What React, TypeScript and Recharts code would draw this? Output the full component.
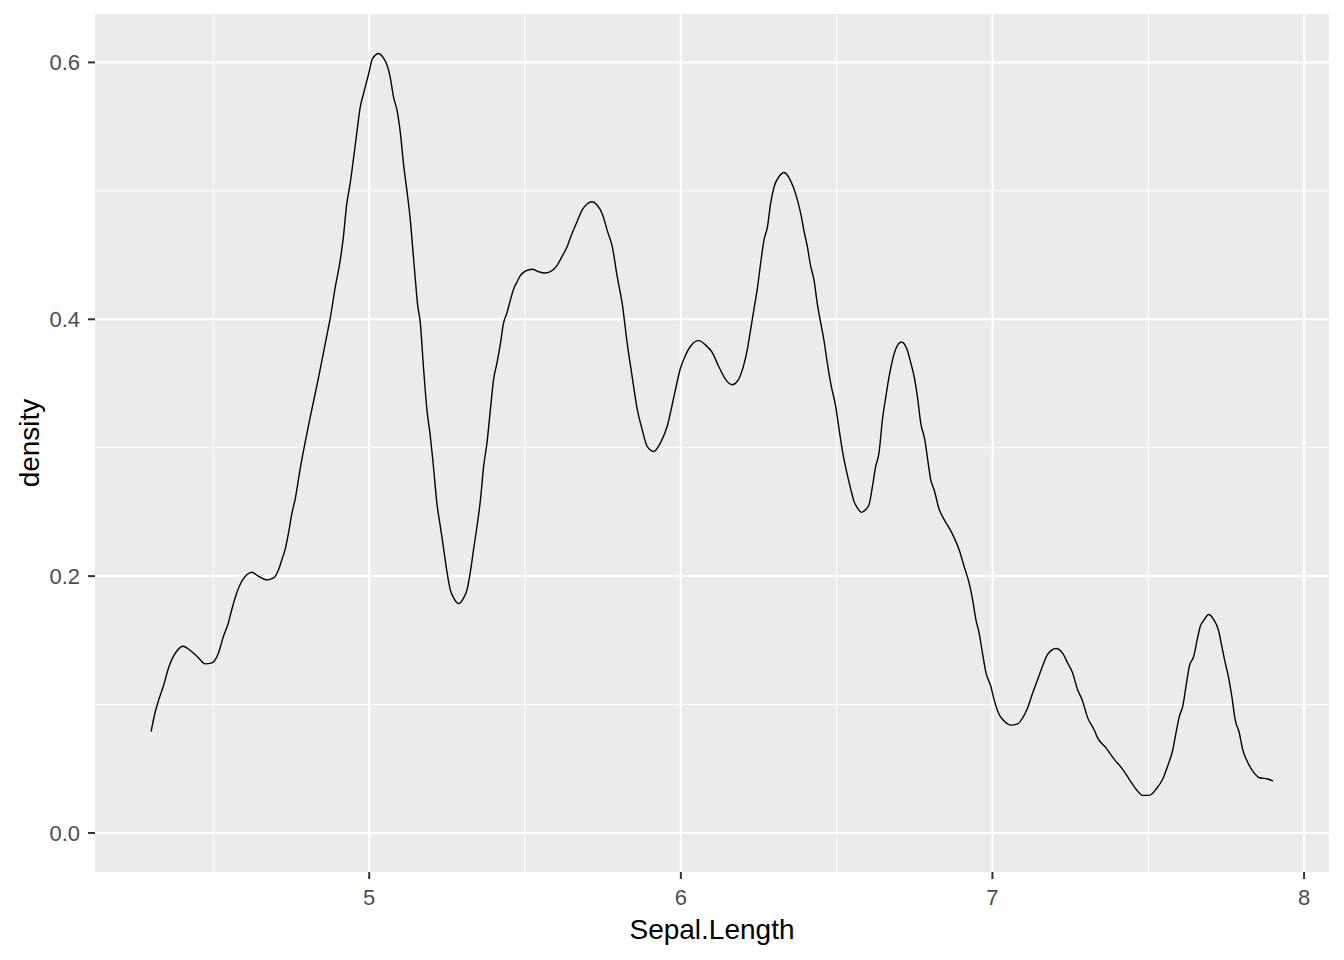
import React from 'react';
import { LineChart, Line, XAxis, YAxis, CartesianGrid, Label } from 'recharts';

// kernel density of Sepal.Length
const sepalLength = [
  4.300, 4.313, 4.325, 4.339, 4.358, 4.382, 4.403, 4.425, 4.452, 4.473,
  4.495, 4.516, 4.532, 4.548, 4.559, 4.575, 4.591, 4.607, 4.623, 4.644,
  4.671, 4.693, 4.709, 4.720, 4.730, 4.741, 4.752, 4.762, 4.778, 4.810,
  4.836, 4.862, 4.875, 4.891, 4.907, 4.917, 4.928, 4.939, 4.950, 4.960,
  4.971, 4.982, 4.998, 5.009, 5.019, 5.030, 5.044, 5.057, 5.067, 5.078,
  5.089, 5.100, 5.110, 5.121, 5.132, 5.140, 5.148, 5.155, 5.164, 5.174,
  5.185, 5.196, 5.207, 5.217, 5.228, 5.239, 5.250, 5.260, 5.271, 5.287,
  5.303, 5.314, 5.324, 5.335, 5.346, 5.357, 5.367, 5.378, 5.389, 5.399,
  5.410, 5.421, 5.431, 5.442, 5.453, 5.464, 5.474, 5.485, 5.501, 5.523,
  5.544, 5.565, 5.587, 5.603, 5.619, 5.635, 5.651, 5.667, 5.683, 5.699,
  5.715, 5.731, 5.748, 5.764, 5.780, 5.796, 5.812, 5.828, 5.844, 5.860,
  5.876, 5.892, 5.913, 5.935, 5.956, 5.978, 5.999, 6.015, 6.031, 6.058,
  6.079, 6.101, 6.122, 6.144, 6.165, 6.181, 6.202, 6.213, 6.224, 6.234,
  6.245, 6.256, 6.267, 6.278, 6.288, 6.299, 6.315, 6.331, 6.352, 6.368,
  6.385, 6.395, 6.406, 6.417, 6.427, 6.438, 6.449, 6.459, 6.470, 6.481,
  6.497, 6.508, 6.519, 6.535, 6.546, 6.556, 6.567, 6.580, 6.594, 6.604,
  6.615, 6.625, 6.636, 6.647, 6.658, 6.668, 6.679, 6.690, 6.708, 6.725,
  6.738, 6.749, 6.759, 6.770, 6.783, 6.792, 6.802, 6.813, 6.829, 6.845,
  6.861, 6.877, 6.893, 6.909, 6.925, 6.936, 6.947, 6.957, 6.968, 6.979,
  6.995, 7.005, 7.022, 7.038, 7.059, 7.081, 7.097, 7.113, 7.129, 7.145,
  7.161, 7.177, 7.204, 7.225, 7.241, 7.257, 7.273, 7.289, 7.305, 7.327,
  7.337, 7.364, 7.391, 7.418, 7.439, 7.461, 7.482, 7.503, 7.525, 7.546,
  7.562, 7.579, 7.589, 7.600, 7.611, 7.621, 7.632, 7.646, 7.657, 7.667,
  7.680, 7.694, 7.710, 7.725, 7.736, 7.747, 7.757, 7.768, 7.779, 7.792,
  7.803, 7.817, 7.836, 7.857, 7.884, 7.900,
];

const density = [
  0.079, 0.094, 0.104, 0.114, 0.130, 0.1415, 0.1454, 0.1423, 0.1364, 0.1317,
  0.1325, 0.140, 0.153, 0.1636, 0.174, 0.187, 0.196, 0.201, 0.203, 0.200,
  0.197, 0.1986, 0.205, 0.213, 0.2206, 0.2336, 0.249, 0.2595, 0.283, 0.323,
  0.353, 0.385, 0.401, 0.425, 0.446, 0.464, 0.490, 0.506, 0.526, 0.545,
  0.565, 0.576, 0.591, 0.602, 0.6055, 0.607, 0.604, 0.598, 0.589, 0.573,
  0.563, 0.545, 0.521, 0.500, 0.477, 0.454, 0.431, 0.412, 0.397, 0.363,
  0.330, 0.309, 0.283, 0.257, 0.239, 0.221, 0.2025, 0.1895, 0.183, 0.1786,
  0.183, 0.1895, 0.2025, 0.221, 0.239, 0.2595, 0.285, 0.304, 0.330, 0.353,
  0.366, 0.381, 0.397, 0.405, 0.415, 0.424, 0.429, 0.434, 0.4375, 0.439,
  0.437, 0.436, 0.438, 0.442, 0.449, 0.4565, 0.467, 0.476, 0.485, 0.4897,
  0.4915, 0.489, 0.482, 0.469, 0.4565, 0.433, 0.412, 0.381, 0.355, 0.330,
  0.314, 0.301, 0.297, 0.304, 0.3165, 0.340, 0.362, 0.372, 0.379, 0.3834,
  0.380, 0.374, 0.363, 0.353, 0.349, 0.3515, 0.3645, 0.376, 0.392, 0.407,
  0.423, 0.4435, 0.462, 0.472, 0.490, 0.503, 0.511, 0.5143, 0.508, 0.498,
  0.482, 0.469, 0.4565, 0.441, 0.431, 0.412, 0.397, 0.384, 0.366, 0.350,
  0.332, 0.314, 0.297, 0.278, 0.267, 0.258, 0.253, 0.2496, 0.252, 0.2556,
  0.270, 0.285, 0.296, 0.322, 0.340, 0.355, 0.368, 0.377, 0.3823, 0.377,
  0.366, 0.355, 0.340, 0.319, 0.306, 0.291, 0.275, 0.267, 0.252, 0.244,
  0.2375, 0.230, 0.2206, 0.2076, 0.1947, 0.182, 0.166, 0.156, 0.140, 0.125,
  0.114, 0.104, 0.092, 0.087, 0.084, 0.085, 0.0897, 0.0975, 0.109, 0.1195,
  0.130, 0.139, 0.1436, 0.140, 0.1325, 0.1247, 0.1117, 0.103, 0.090, 0.080,
  0.0742, 0.0664, 0.0573, 0.0495, 0.0418, 0.034, 0.0293, 0.0293, 0.034, 0.0418,
  0.052, 0.065, 0.078, 0.091, 0.099, 0.114, 0.130, 0.1376, 0.1506, 0.161,
  0.1662, 0.1701, 0.1662, 0.158, 0.1454, 0.1325, 0.122, 0.1065, 0.088, 0.078,
  0.065, 0.056, 0.048, 0.043, 0.042, 0.0404,
];

const xTicks = [5, 6, 7, 8];
const yTicks = [0, 0.2, 0.4, 0.6];
const xMinor = [4.5, 5.5, 6.5, 7.5];
const yMinor = [0.1, 0.3, 0.5];

const data = sepalLength.map((x, i) => ({ x, y: density[i] }));

const font = '"Liberation Sans", Arial, sans-serif';
const W = 1344;
const H = 960;
const margin = { top: 14, right: 15, left: 0, bottom: 0 };
const yAxisWidth = 95;
const xAxisHeight = 88;

const tickStyle = { fill: '#4D4D4D', fontSize: 22, fontFamily: font };
const tickLine = { stroke: '#333333', strokeWidth: 2 };

const YTitle = () => {
  const cy = margin.top + (H - margin.top - xAxisHeight) / 2;
  return (
    <text
      x={39}
      y={cy}
      transform={`rotate(-90, 39, ${cy})`}
      textAnchor="middle"
      fill="#000000"
      fontSize={28}
      fontFamily={font}
    >
      density
    </text>
  );
};

export default function App() {
  return (
    <div style={{ position: 'absolute', left: 0, top: 0, width: W, height: H, background: '#fff' }}>
      <LineChart width={W} height={H} data={data} margin={margin}>
        <CartesianGrid
          fill="#EBEBEB"
          stroke="#FFFFFF"
          strokeWidth={1}
          horizontalValues={yMinor}
          verticalValues={xMinor}
        />
        <CartesianGrid
          stroke="#FFFFFF"
          strokeWidth={2}
          horizontalValues={yTicks}
          verticalValues={xTicks}
        />
        <XAxis
          type="number"
          dataKey="x"
          domain={[4.12, 8.08]}
          ticks={xTicks}
          allowDataOverflow
          height={xAxisHeight}
          axisLine={false}
          tickLine={tickLine}
          tickSize={7}
          tickMargin={10}
          tick={tickStyle}
        >
          <Label
            value="Sepal.Length"
            position="insideBottom"
            offset={21}
            fill="#000000"
            fontSize={28}
            fontFamily={font}
          />
        </XAxis>
        <YAxis
          type="number"
          domain={[-0.0304, 0.6377]}
          ticks={yTicks}
          allowDataOverflow
          width={yAxisWidth}
          axisLine={false}
          tickLine={tickLine}
          tickSize={7}
          tickMargin={8}
          tick={tickStyle}
          tickFormatter={(v: number) => v.toFixed(1)}
        >
          <Label content={<YTitle />} />
        </YAxis>
        <Line
          type="monotone"
          dataKey="y"
          stroke="#000000"
          strokeWidth={1.4}
          dot={false}
          isAnimationActive={false}
        />
      </LineChart>
    </div>
  );
}
